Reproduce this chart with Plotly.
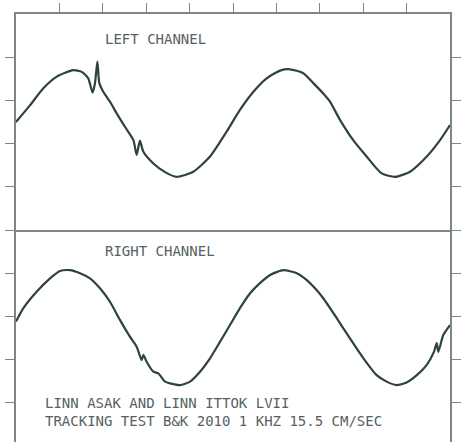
import plotly.graph_objects as go

# Time axis in ms (2 cycles of 1 kHz), amplitude in chart divisions
left_t = [0.000, 0.065, 0.126, 0.188, 0.264, 0.303, 0.333, 0.353, 0.364, 0.375,
          0.384, 0.402, 0.433, 0.464, 0.502, 0.541, 0.556, 0.571, 0.587, 0.633,
          0.687, 0.741, 0.817, 0.894, 0.971, 1.032, 1.094, 1.155, 1.217, 1.263,
          1.324, 1.370, 1.416, 1.447, 1.493, 1.554, 1.616, 1.685, 1.747, 1.816,
          1.893, 1.954, 2.000]
left_v = [2.50, 2.89, 3.28, 3.55, 3.70, 3.66, 3.51, 3.18, 3.40, 3.90,
          3.40, 3.20, 2.97, 2.70, 2.39, 2.08, 1.74, 2.07, 1.81, 1.54,
          1.34, 1.23, 1.35, 1.70, 2.28, 2.78, 3.20, 3.51, 3.69, 3.72,
          3.63, 3.40, 3.16, 2.97, 2.55, 2.08, 1.70, 1.31, 1.23, 1.35,
          1.70, 2.08, 2.43]

right_t = [0.000, 0.034, 0.095, 0.157, 0.203, 0.249, 0.295, 0.341, 0.387, 0.433,
           0.479, 0.525, 0.556, 0.579, 0.587, 0.602, 0.633, 0.656, 0.687, 0.710,
           0.756, 0.802, 0.848, 0.894, 0.940, 0.986, 1.032, 1.078, 1.124, 1.171,
           1.232, 1.294, 1.340, 1.378, 1.416, 1.478, 1.539, 1.601, 1.662, 1.708,
           1.754, 1.800, 1.847, 1.893, 1.926, 1.939, 1.946, 1.969, 2.000]
right_v = [2.88, 3.19, 3.57, 3.88, 4.05, 4.07, 4.00, 3.88, 3.65, 3.34,
           2.92, 2.53, 2.30, 1.99, 2.11, 1.95, 1.72, 1.68, 1.49, 1.45,
           1.41, 1.49, 1.72, 2.03, 2.41, 2.80, 3.19, 3.53, 3.77, 3.96,
           4.07, 4.00, 3.84, 3.65, 3.42, 2.96, 2.49, 2.03, 1.64, 1.49,
           1.41, 1.47, 1.64, 1.88, 2.18, 2.38, 2.18, 2.57, 2.80]

x_ticks = [0.2, 0.4, 0.6, 0.8, 1.0, 1.2, 1.4, 1.6, 1.8]
top_y_ticks = [0, 1, 2, 3, 4]
bottom_y_ticks = [1, 2, 3, 4]

title_left = "LEFT CHANNEL"
title_right = "RIGHT CHANNEL"
caption_1 = "LINN ASAK AND LINN ITTOK LVII"
caption_2 = "TRACKING TEST B&K 2010 1 KHZ 15.5 CM/SEC"

FRAME = "#7b8886"
INK = "#2d433f"
TEXT = "#56625f"

fig = go.Figure()
fig.add_trace(go.Scatter(x=left_t, y=left_v, mode="lines", xaxis="x", yaxis="y",
                         line=dict(color=INK, width=2.2, shape="spline", smoothing=0.6),
                         showlegend=False, hoverinfo="skip"))
fig.add_trace(go.Scatter(x=right_t, y=right_v, mode="lines", xaxis="x2", yaxis="y2",
                         line=dict(color=INK, width=2.2, shape="spline", smoothing=0.6),
                         showlegend=False, hoverinfo="skip"))

split = 0.4953
yax = dict(showticklabels=False, showgrid=False, zeroline=False, ticks="outside",
           ticklen=9, tickwidth=1.3, tickcolor=FRAME, showline=True, linecolor=FRAME,
           linewidth=1.5, mirror="ticks")
fig.update_layout(
    width=461, height=442, autosize=False,
    margin=dict(l=16, r=11, t=14, b=0, pad=0),
    paper_bgcolor="white", plot_bgcolor="white",
    xaxis=dict(domain=[0, 1], anchor="y", side="top", range=[0, 2], tickvals=x_ticks,
               showticklabels=False, showgrid=False, zeroline=False, ticks="outside",
               ticklen=9, tickwidth=1.3, tickcolor=FRAME, showline=True,
               linecolor=FRAME, linewidth=1.5, mirror=True),
    xaxis2=dict(domain=[0, 1], anchor="y2", range=[0, 2], visible=False, matches="x"),
    yaxis=dict(domain=[split, 1], anchor="x", range=[0, 5], tickvals=top_y_ticks, **yax),
    yaxis2=dict(domain=[0, split], anchor="x2", range=[0.0926, 5], tickvals=bottom_y_ticks, **yax),
)

font = dict(family="DejaVu Sans Mono", size=14, color=TEXT)
for txt, x, y in [(title_left, 0.2, 0.9416), (title_right, 0.2, 0.4463),
                  (caption_1, 0.062, 0.0911), (caption_2, 0.062, 0.049)]:
    fig.add_annotation(text=txt, x=x, y=y, xref="paper", yref="paper",
                       xanchor="left", yanchor="middle", showarrow=False, font=font)

fig.write_html("out.html", config={"displayModeBar": False},
               post_script="document.body.style.margin='0px';document.body.style.overflow='hidden';")
